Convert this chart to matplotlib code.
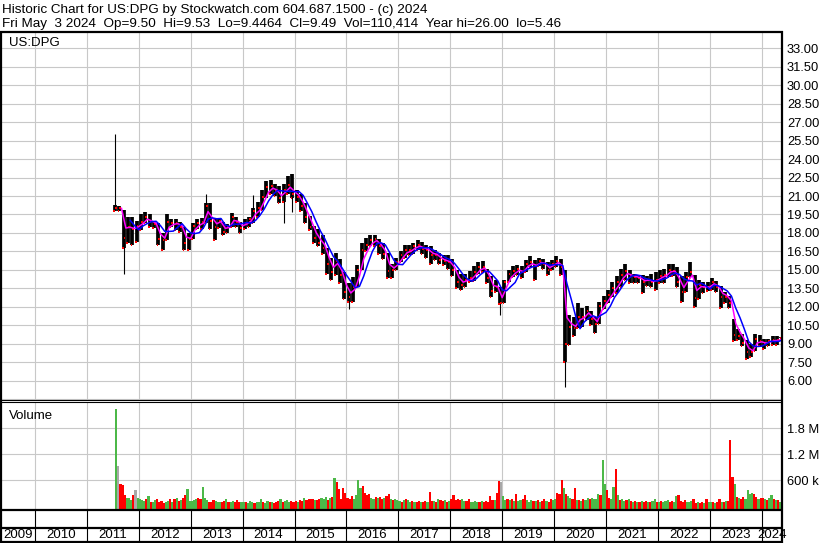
import numpy as np
import pandas as pd
import matplotlib
matplotlib.use('Agg')
import matplotlib.pyplot as plt

plt.rcParams['font.family'] = ['Liberation Sans', 'DejaVu Sans']

# ---- data ----
# monthly bars, Jul 2011 .. May 2024
months = pd.period_range('2011-07', '2024-05', freq='M')
high = [20.3, 20.2, 19.9, 19.3, 19.3, 19.0,
        19.5, 19.7, 19.5, 18.9, 18.8, 18.0, 19.5, 19.1, 19.1, 18.9, 18.5, 18.0,
        18.8, 19.1, 19.2, 20.4, 20.4, 19.1, 19.2, 18.9, 18.7, 19.6, 19.3, 18.9,
        19.1, 19.3, 20.0, 20.5, 21.5, 22.2, 22.3, 22.0, 21.8, 22.0, 22.6, 22.8,
        21.5, 21.2, 20.4, 19.4, 18.6, 18.3, 17.8, 16.8, 16.0, 16.4, 15.9, 14.8,
        13.9, 14.4, 15.4, 17.2, 17.6, 17.8, 17.8, 17.5, 17.2, 16.4, 15.5, 16.0,
        16.5, 17.0, 17.0, 17.2, 17.4, 17.3, 17.0, 16.9, 16.6, 16.4, 16.2, 16.2,
        15.9, 15.0, 14.7, 14.7, 14.9, 15.3, 15.6, 15.7, 15.1, 14.5, 14.2, 13.6,
        14.2, 15.0, 15.3, 15.4, 15.3, 15.8, 16.1, 15.8, 16.0, 15.9, 15.6, 15.8,
        16.1, 15.9, 15.0, 11.3, 11.2, 12.3, 11.9, 12.1, 11.7, 11.2, 12.4, 12.9,
        13.4, 14.0, 14.5, 15.1, 15.5, 15.0, 14.7, 14.6, 14.6, 14.5, 14.7, 14.8,
        15.0, 15.1, 15.5, 15.5, 15.2, 14.5, 14.8, 15.6, 14.6, 14.2, 14.0, 14.0,
        14.3, 14.1, 13.7, 13.2, 12.9, 11.0, 10.2, 9.8, 9.3, 9.0, 9.8, 9.7,
        9.4, 9.4, 9.6, 9.6, 9.53]
low = [19.8, 19.8, 16.8, 17.2, 17.0, 17.3,
       18.2, 18.8, 18.5, 18.4, 17.0, 16.6, 17.4, 18.5, 18.2, 18.1, 16.6, 16.6,
       17.5, 18.3, 18.3, 18.8, 18.3, 17.4, 18.4, 17.8, 18.0, 18.5, 18.5, 18.0,
       18.3, 18.5, 18.8, 19.3, 19.9, 20.8, 21.2, 21.0, 20.4, 20.5, 21.2, 20.8,
       20.5, 19.8, 18.8, 18.2, 17.2, 16.9, 16.3, 14.7, 14.2, 14.6, 13.9, 12.6,
       12.4, 12.4, 13.6, 15.0, 16.5, 16.9, 16.9, 16.3, 15.9, 14.3, 14.3, 15.0,
       15.6, 16.0, 16.2, 16.3, 16.6, 16.3, 16.0, 15.5, 15.8, 15.5, 15.4, 15.1,
       14.5, 13.5, 13.4, 13.6, 14.0, 14.1, 14.7, 14.8, 13.9, 12.8, 13.2, 12.2,
       12.3, 14.0, 14.4, 14.6, 14.3, 14.8, 15.2, 14.2, 15.3, 15.1, 14.6, 15.0,
       15.2, 14.6, 7.5, 8.9, 9.6, 10.3, 10.4, 10.9, 10.5, 9.9, 10.6, 11.8,
       12.3, 12.8, 13.1, 13.6, 14.2, 13.9, 13.9, 13.9, 13.1, 13.7, 13.6, 13.4,
       13.9, 13.9, 14.4, 14.5, 13.6, 12.4, 13.2, 14.4, 12.0, 12.6, 13.1, 13.3,
       13.4, 13.2, 11.9, 12.3, 11.9, 9.2, 9.3, 8.8, 7.8, 7.9, 8.4, 8.8,
       8.6, 8.8, 8.9, 8.9, 9.45]
close = [20.0, 20.0, 17.6, 18.5, 18.3, 18.6,
         18.9, 19.3, 18.9, 18.7, 17.5, 17.4, 18.9, 18.8, 18.8, 18.5, 17.2, 17.5,
         18.6, 18.8, 18.9, 20.2, 19.0, 18.5, 19.0, 18.1, 18.5, 19.3, 18.9, 18.4,
         18.8, 19.1, 19.8, 20.0, 20.9, 21.7, 21.8, 21.4, 20.8, 21.5, 21.9, 21.2,
         20.9, 20.2, 19.3, 18.5, 17.6, 17.2, 16.8, 15.5, 14.8, 15.7, 14.6, 13.2,
         12.8, 13.6, 15.0, 16.6, 17.0, 17.4, 17.5, 16.9, 16.3, 14.9, 15.0, 15.6,
         16.2, 16.6, 16.6, 16.9, 17.0, 16.7, 16.6, 16.2, 16.2, 15.8, 15.7, 15.6,
         15.0, 14.0, 13.8, 14.2, 14.3, 14.8, 15.2, 15.2, 14.3, 13.3, 13.6, 12.3,
         14.0, 14.7, 14.9, 15.1, 14.8, 15.5, 15.6, 15.3, 15.7, 15.5, 15.0, 15.5,
         15.7, 15.2, 9.0, 10.4, 10.3, 11.2, 11.2, 11.7, 11.0, 10.6, 12.1, 12.5,
         13.0, 13.5, 14.0, 14.6, 14.9, 14.5, 14.4, 14.3, 14.0, 14.2, 14.0, 14.2,
         14.5, 14.6, 15.0, 14.9, 14.0, 13.2, 14.4, 14.8, 12.7, 13.8, 13.6, 13.6,
         14.0, 13.6, 12.8, 12.8, 12.3, 9.7, 9.6, 9.1, 8.3, 8.3, 9.4, 9.2,
         9.0, 9.2, 9.3, 9.3, 9.49]

# single-day extremes (thin wicks)
spike_month = ['2011-07', '2011-09', '2013-04', '2014-03', '2014-10',
               '2014-12', '2016-01', '2018-12', '2020-03']
spike_price = [26.0, 14.7, 21.2, 21.1, 18.8, 19.7, 11.8, 11.35, 5.46]

# half-month volumes (thousands), 2nd half Jul 2011 .. 1st half May 2024
vol_2011 = [2250, 920, 520, 500, 260, 200, 190, 150, 270, 370, 200]
vol_2012 = [180, 150, 120, 170, 230, 110, 100, 150, 160, 90, 120, 80,
            100, 130, 160, 110, 170, 200, 120, 150, 200, 250, 390, 130]
vol_2013 = [120, 140, 180, 200, 170, 450, 190, 150, 110, 100, 140, 120,
            90, 110, 100, 130, 180, 100, 90, 120, 110, 150, 100, 90]
vol_2014 = [90, 110, 80, 120, 100, 70, 110, 90, 180, 100, 80, 120,
            90, 110, 70, 100, 130, 160, 90, 120, 150, 110, 130, 100]
vol_2015 = [130, 110, 150, 120, 200, 140, 170, 160, 180, 150, 140, 170,
            200, 180, 210, 150, 190, 220, 650, 560, 390, 180, 415, 300]
vol_2016 = [200, 170, 230, 180, 250, 615, 420, 460, 300, 250, 280, 200,
            170, 210, 190, 220, 180, 200, 230, 295, 170, 140, 180, 150]
vol_2017 = [130, 110, 150, 160, 140, 110, 120, 90, 100, 130, 110, 90,
            120, 100, 340, 120, 130, 100, 160, 150, 120, 140, 110, 130]
vol_2018 = [160, 250, 150, 170, 140, 160, 120, 130, 160, 110, 100, 130,
            90, 110, 120, 100, 130, 90, 230, 140, 150, 310, 575, 560]
vol_2019 = [230, 140, 160, 150, 170, 130, 280, 120, 140, 160, 250, 150,
            110, 140, 130, 120, 150, 110, 130, 160, 120, 110, 170, 140]
vol_2020 = [160, 310, 280, 612, 415, 283, 230, 200, 180, 415, 140, 150,
            130, 160, 140, 190, 170, 200, 180, 160, 290, 250, 1077, 520]
vol_2021 = [380, 200, 170, 448, 870, 250, 150, 170, 130, 140, 160, 120,
            100, 130, 110, 90, 120, 100, 130, 110, 90, 120, 160, 110]
vol_2022 = [110, 130, 90, 120, 140, 100, 130, 110, 230, 250, 120, 100,
            140, 110, 90, 120, 160, 80, 100, 70, 90, 80, 180, 100]
vol_2023 = [90, 110, 80, 100, 170, 90, 110, 120, 130, 1523, 677, 523,
            210, 200, 180, 220, 160, 370, 290, 310, 290, 220, 180, 200]
vol_2024 = [200, 170, 150, 190, 250, 160, 150, 140, 110]
volume = (vol_2011 + vol_2012 + vol_2013 + vol_2014 + vol_2015 + vol_2016 +
          vol_2017 + vol_2018 + vol_2019 + vol_2020 + vol_2021 + vol_2022 +
          vol_2023 + vol_2024)
# g = up, r = down, n = unchanged
vol_dir = ("gnrrrgggrng"
           "gggrgrggrrrrggrgrgrgrrgg"
           "gggrrgggrrrgggrrgrggrrrg"
           "grgggrgggrggrgrrrgrgggrr"
           "rgrrgrrrrgrrgggrgrgrrrrr"
           "rrrggggrrrrggrgrrgrrgrgg"
           "grgrggrgrrgrrgrrgrgrrgrg"
           "rrrrrggrrggggrgrrrrrgrrn"
           "ggrgrgrggrrgggrgrgrrgrrg"
           "grrrgrggrrgrgrggrggggrgg"
           "rrggrgrggrgrgrgrgrrgrggr"
           "grgggrrggrrrrgggrrgrrgrg"
           "grgrrgrgrrrgrgrrggggrrgr"
           "rgrggrgrg")

years = list(range(2009, 2025))
price_ticks = np.arange(6.0, 33.01, 1.5)
vol_ticks = [600e3, 1200e3, 1800e3]
vol_tick_labels = ['600 k', '1.2 M', '1.8 M']

title1 = 'Historic Chart for US:DPG by Stockwatch.com 604.687.1500 - (c) 2024'
title2 = ('Fri May  3 2024  Op=9.50  Hi=9.53  Lo=9.4464  Cl=9.49  '
          'Vol=110,414  Year hi=26.00  lo=5.46')

# ---- layout ----
W, H = 830, 543
fig = plt.figure(figsize=(W / 100, H / 100), dpi=100)


def px_axes(x0, y0, x1, y1):
    return fig.add_axes([x0 / W, 1 - y1 / H, (x1 - x0) / W, (y1 - y0) / H])


XMIN, XMAX = 2009.345, 2024.391
GRID = '#c8c8c8'
GREEN = '#4cb848'

t_month = np.array([p.year + (p.month - 0.5) / 12 for p in months])
t_vol = 2011 + (13.5 + np.arange(len(volume))) / 24
spike_idx = [list(months).index(pd.Period(m, 'M')) for m in spike_month]
spike_t = t_month[spike_idx]
spike_base = np.array(close)[spike_idx]

# price panel
ax_p = px_axes(1, 33, 782, 400)
ax_p.set_xlim(XMIN, XMAX)
ax_p.set_ylim(4.43, 34.243)
ax_p.set_xticks(range(2010, 2025))
ax_p.set_yticks(np.arange(4.5, 33.01, 1.5))
ax_p.grid(True, color=GRID, lw=0.8)
ax_p.set_axisbelow(True)
ax_p.tick_params(axis='both', length=0, labelbottom=False, labelleft=False)
for s in ax_p.spines.values():
    s.set_visible(False)

sc = pd.Series(close)
ma_short = sc.ewm(span=2, adjust=False).mean()
ma_long = sc.rolling(4).mean()

ax_p.vlines(spike_t, spike_base, spike_price, color='black', lw=0.8, zorder=2)
ax_p.vlines(t_month, low, high, color='black', lw=2.7, zorder=2)
ax_p.hlines(close, t_month, t_month + 0.035, color='red', lw=1.4, zorder=3)
ax_p.hlines(low, t_month - 0.03, t_month, color='red', lw=1.4, zorder=3)
ax_p.plot(t_month[1:] + 1 / 24, ma_short[1:], color='#ff00ff', lw=1.1, zorder=4)
ax_p.plot(t_month + 1 / 24, ma_long, color='#0000ff', lw=1.1, zorder=5)

ax_p.text(0.01, 0.988, 'US:DPG', transform=ax_p.transAxes, fontsize=9.5,
          va='top', ha='left')

# right-hand price labels
ax_pl = ax_p.twinx()
ax_pl.set_ylim(ax_p.get_ylim())
ax_pl.set_yticks(price_ticks, ['%.2f' % v for v in price_ticks])
ax_pl.tick_params(axis='y', length=0, pad=3.6, labelsize=9.3)
for s in ax_pl.spines.values():
    s.set_visible(False)

# volume panel
ax_v = px_axes(1, 403, 782, 510)
VBOT = -85e3
ax_v.set_xlim(XMIN, XMAX)
ax_v.set_ylim(VBOT, 2.384e6)
ax_v.set_xticks(range(2010, 2025))
ax_v.grid(True, color=GRID, lw=0.8)
ax_v.set_axisbelow(True)
colour_map = {'g': GREEN, 'r': '#ff0000', 'n': '#a8a8a8'}
vol_colours = [colour_map[c] for c in vol_dir]
vol = np.array(volume) * 1000.0
ax_v.bar(t_vol, vol - VBOT, bottom=VBOT, width=1 / 24, color=vol_colours,
         lw=0, zorder=2)
ax_v.yaxis.tick_right()
ax_v.set_yticks(vol_ticks, vol_tick_labels)
ax_v.tick_params(axis='both', length=0, labelbottom=False, pad=3.6,
                 labelsize=9.3)
for s in ax_v.spines.values():
    s.set_visible(False)
ax_v.text(0.01, 0.93, 'Volume', transform=ax_v.transAxes, fontsize=9.5,
          va='top', ha='left')

# date strip
ax_d = px_axes(1, 510, 782, 542)
ax_d.set_xlim(XMIN, XMAX)
ax_d.set_ylim(0, 32)
ax_d.axis('off')
ax_d.vlines(range(2010, 2025), 0, 32, color='black', lw=0.8)
for y in years:
    a, b = max(y, XMIN), min(y + 1, XMAX)
    ax_d.text((a + b) / 2, 7.5, str(y), ha='center', va='center', fontsize=9.5)

# frame lines
ax_f = fig.add_axes([0, 0, 1, 1])
ax_f.set_xlim(0, W)
ax_f.set_ylim(H, 0)
ax_f.axis('off')
ax_f.hlines([32], 0, 783, color='black', lw=1.6)
ax_f.vlines([1], 31, H, color='black', lw=1.6)
ax_f.vlines([782], 31, H, color='black', lw=1.6)
ax_f.hlines([400.2, 402.3], 0, 782, color='black', lw=0.8)
ax_f.hlines([510, 527.5, 541.5], 0, 782, color='black', lw=1.6)

fig.text(2 / W, 1 - 12.5 / H, title1, fontsize=9.7, va='baseline', ha='left')
fig.text(2 / W, 1 - 27 / H, title2, fontsize=9.7, va='baseline', ha='left')

fig.savefig('out.png', dpi=100)
